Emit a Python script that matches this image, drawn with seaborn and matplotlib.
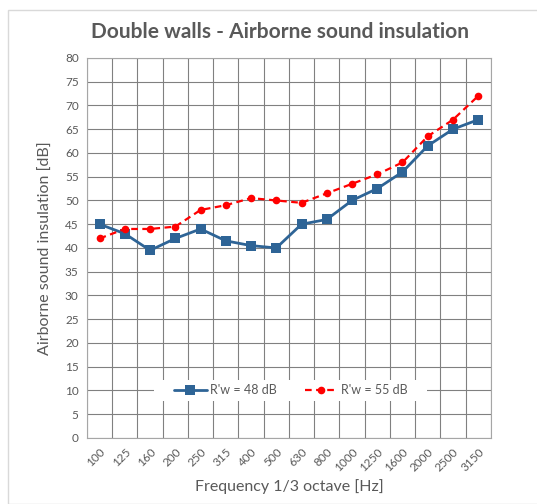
import matplotlib
matplotlib.use("Agg")
import matplotlib.pyplot as plt
import matplotlib.patches as mpatches
import seaborn as sns
import pandas as pd
import numpy as np

freqs = ["100", "125", "160", "200", "250", "315", "400", "500", "630", "800",
         "1000", "1250", "1600", "2000", "2500", "3150"]
rw48 = [45, 43, 39.5, 42, 44, 41.5, 40.5, 40, 45, 46, 50, 52.5, 56, 61.5, 65, 67]
rw55 = [42, 44, 44, 44.5, 48, 49, 50.5, 50, 49.5, 51.5, 53.5, 55.5, 58, 63.5, 67, 72]
series_names = ["R'w = 48 dB", "R'w = 55 dB"]
yticks = list(range(0, 85, 5))

sns.set_theme(style="white")
plt.rcParams['font.family'] = ['Lato', 'DejaVu Sans']

df = pd.DataFrame({"freq": freqs * 2,
                   "value": rw48 + rw55,
                   "series": [series_names[0]] * len(freqs) + [series_names[1]] * len(freqs)})

fig = plt.figure(figsize=(5.37, 5.04), dpi=100)
ax = fig.add_axes([0.162, 0.131, 0.752, 0.754])

# chart-area border
fig.patches.append(mpatches.Rectangle((8 / 537, 0.0), 1.2, (504 - 10) / 504, transform=fig.transFigure,
                                      fill=False, edgecolor="#d9d9d9", linewidth=1.0))

grey = "#595959"
gridc = "#808080"

ax.set_xlim(-0.5, len(freqs) - 0.5)
ax.set_ylim(0, 80)
ax.set_yticks(yticks)
ax.set_xticks(np.arange(-0.5, len(freqs), 1.0), minor=True)
ax.grid(True, which="major", axis="y", color=gridc, linewidth=0.8)
ax.grid(True, which="minor", axis="x", color=gridc, linewidth=0.8)
ax.set_axisbelow(True)

sns.lineplot(data=df[df.series == series_names[0]], x="freq", y="value", ax=ax, sort=False,
             color="#2e6496", linewidth=2.0, marker="s", markersize=7.5, markeredgewidth=0,
             label=series_names[0])
sns.lineplot(data=df[df.series == series_names[1]], x="freq", y="value", ax=ax, sort=False,
             color="#ff0000", linewidth=1.6, linestyle=(0, (3, 2)), marker="o", markersize=5.5,
             markeredgewidth=0, label=series_names[1])

ax.set_xlim(-0.5, len(freqs) - 0.5)
ax.set_xticks(range(len(freqs)))
ax.set_xticklabels(freqs, rotation=45, ha="right", rotation_mode="anchor", fontsize=8.5, color=grey)
ax.tick_params(axis="x", which="both", length=0, pad=6)
ax.tick_params(axis="y", length=0, pad=6, labelsize=8.5, labelcolor=grey)

for s in ax.spines.values():
    s.set_color("#a6a6a6")
    s.set_linewidth(0.8)

ax.set_xlabel("Frequency 1/3 octave [Hz]", fontsize=11.5, color=grey, labelpad=4)
ax.set_ylabel("Airborne sound insulation [dB]", fontsize=11.5, color=grey, labelpad=9)
fig.text(0.522, 0.936, "Double walls - Airborne sound insulation", ha="center", va="center",
         fontsize=15, fontweight="bold", color=grey)

# white legend background band
ax.add_patch(mpatches.Rectangle((0.166, 7.8 / 80), 0.676, 4.4 / 80, transform=ax.transAxes,
                                facecolor="white", edgecolor="none", zorder=1.5))

leg = ax.legend(loc="center", bbox_to_anchor=(0.505, 10 / 80), ncol=2, frameon=False,
                fontsize=9, handlelength=2.6, columnspacing=2.2, borderpad=0.2,
                handletextpad=0.3, borderaxespad=0)
for t in leg.get_texts():
    t.set_color(grey)

fig.savefig("out.png", dpi=100)
